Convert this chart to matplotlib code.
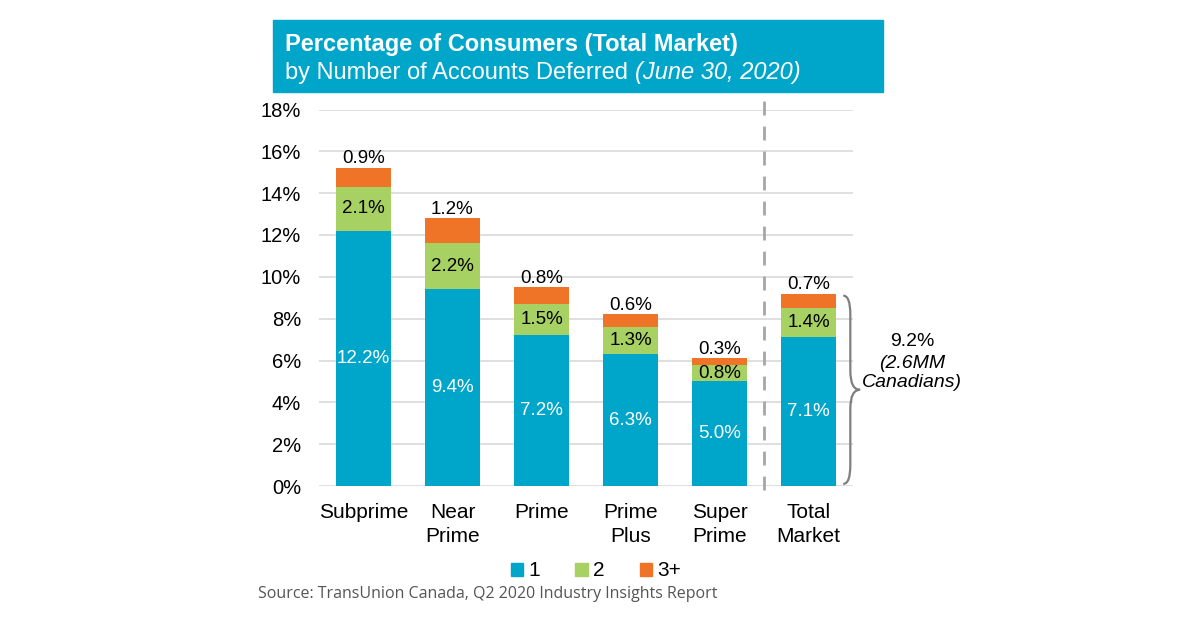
import matplotlib.pyplot as plt
from matplotlib.patches import Rectangle, Patch, PathPatch
from matplotlib.path import Path
import numpy as np

plt.rcParams['font.family'] = ['Liberation Sans', 'DejaVu Sans']

categories = ['Subprime', 'Near\nPrime', 'Prime', 'Prime\nPlus', 'Super\nPrime', 'Total\nMarket']
one_acct = [12.2, 9.4, 7.2, 6.3, 5.0, 7.1]
two_acct = [2.1, 2.2, 1.5, 1.3, 0.8, 1.4]
three_plus = [0.9, 1.2, 0.8, 0.6, 0.3, 0.7]
yticks = [0, 2, 4, 6, 8, 10, 12, 14, 16, 18]

c_blue = '#00a6c9'
c_green = '#a8d164'
c_orange = '#f07427'

fig = plt.figure(figsize=(12, 6.25), dpi=100)
ax = fig.add_axes([319 / 1200, 1 - 486 / 625, 534 / 1200, (486 - 109.5) / 625])

x = np.arange(len(categories))
w = 0.62
b1 = np.array(one_acct)
b2 = b1 + np.array(two_acct)

ax.bar(x, one_acct, w, color=c_blue, zorder=3)
ax.bar(x, two_acct, w, bottom=b1, color=c_green, zorder=3)
ax.bar(x, three_plus, w, bottom=b2, color=c_orange, zorder=3)

for i in range(len(x)):
    ax.text(x[i], one_acct[i] / 2, f'{one_acct[i]:.1f}%', ha='center', va='center',
            color='white', fontsize=13.5, zorder=4)
    ax.text(x[i], b1[i] + two_acct[i] / 2, f'{two_acct[i]:.1f}%', ha='center', va='center',
            color='black', fontsize=13.5, zorder=4)
    ax.text(x[i], b2[i] + three_plus[i] + 0.03, f'{three_plus[i]:.1f}%', ha='center', va='bottom',
            color='black', fontsize=13.5, zorder=4)

ax.set_xlim(-0.5, 5.5)
ax.set_ylim(0, 18)
ax.set_yticks(yticks)
ax.set_yticklabels([f'{t}%' for t in yticks], fontsize=14.5)
ax.set_xticks(x)
ax.set_xticklabels(categories, fontsize=15, linespacing=1.35, va='top')
ax.tick_params(length=0, axis='y', pad=13)
ax.tick_params(length=0, axis='x', pad=12)
ax.grid(axis='y', color='#d9d9d9', lw=1.2, zorder=0)
for s in ax.spines.values():
    s.set_visible(False)

# dashed divider before total market
ax.plot([4.5, 4.5], [-0.2, 18.7], ls=(0, (5, 4)), color='#a6a6a6', lw=2, clip_on=False, zorder=2)

# curly brace next to total market bar
top = 9.1
bot = 0.1
mid = (top + bot) / 2
xa, xb, xc = 5.39, 5.47, 5.58
r = 0.9
verts = [(xa, top), (xb, top), (xb, top - r),
         (xb, mid + r),
         (xb, mid), (xc, mid),
         (xb, mid), (xb, mid - r),
         (xb, bot + r),
         (xb, bot), (xa, bot)]
codes = [Path.MOVETO, Path.CURVE3, Path.CURVE3,
         Path.LINETO,
         Path.CURVE3, Path.CURVE3,
         Path.CURVE3, Path.CURVE3,
         Path.LINETO,
         Path.CURVE3, Path.CURVE3]
ax.add_patch(PathPatch(Path(verts, codes), fill=False, ec='#7f7f7f', lw=1.6, clip_on=False, zorder=3))

fig.text(912 / 1200, 1 - 342 / 625, '9.2%', ha='center', va='center', fontsize=14)
fig.text(912 / 1200, 1 - 373 / 625, '(2.6MM\nCanadians)', ha='center', va='center',
         fontsize=14, style='italic', linespacing=1.15)

# title box
fig.patches.append(Rectangle((273 / 1200, 1 - 92 / 625), 610 / 1200, 72 / 625,
                             transform=fig.transFigure, color=c_blue, zorder=0))
fig.text(285 / 1200, 1 - 44 / 625, 'Percentage of Consumers (Total Market)', color='white',
         fontsize=17, fontweight='bold', va='center')
t2 = fig.text(285 / 1200, 1 - 73 / 625, 'by Number of Accounts Deferred ', color='white',
              fontsize=17, va='center')
fig.canvas.draw()
bb = t2.get_window_extent()
fig.text(bb.x1 / 1200, 1 - 73 / 625, '(June 30, 2020)', color='white', fontsize=17,
         style='italic', va='center')

handles = [Patch(color=c_blue, label='1'), Patch(color=c_green, label='2'),
           Patch(color=c_orange, label='3+')]
fig.legend(handles=handles, loc='center', bbox_to_anchor=(596 / 1200, 1 - 571 / 625), ncol=3,
           frameon=False, fontsize=15, handlelength=0.6, handleheight=0.6,
           handletextpad=0.25, columnspacing=1.7, borderpad=0)

fig.text(258 / 1200, 1 - 594 / 625, 'Source: TransUnion Canada, Q2 2020 Industry Insights Report',
         color='#555555', fontsize=11.5, family=['Open Sans', 'DejaVu Sans'], va='center')

fig.savefig('out.png', dpi=100)
